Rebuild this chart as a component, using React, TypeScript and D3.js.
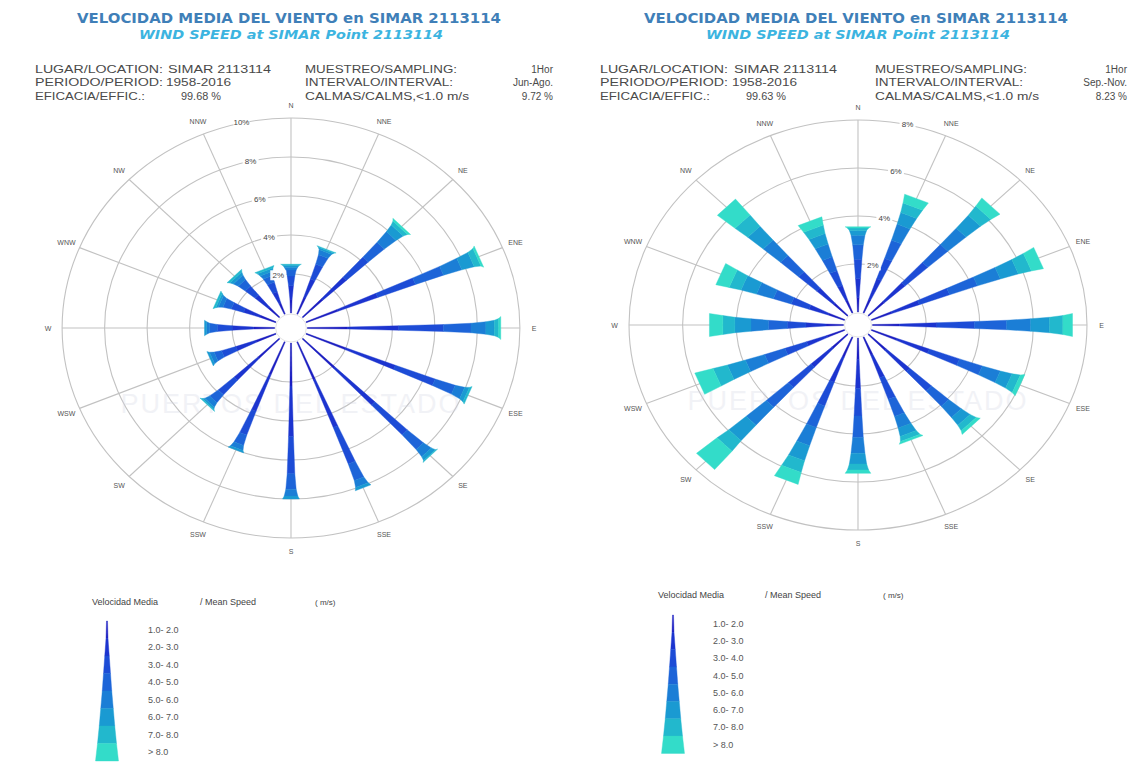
import * as d3 from "d3";

const directions = ["N", "NNE", "NE", "ENE", "E", "ESE", "SE", "SSE", "S", "SSW", "SW", "WSW", "W", "WNW", "NW", "NNW"];
const speedClasses = ["1.0- 2.0", "2.0- 3.0", "3.0- 4.0", "4.0- 5.0", "5.0- 6.0", "6.0- 7.0", "7.0- 8.0", "> 8.0"];
const classColors = ["#1b1ec2", "#1c34cf", "#1d4cd6", "#1d64d8", "#1b7ed6", "#1a9ad2", "#22b8cd", "#33dcc9"];
// full width (px) of a sector at the outer end of each speed class
const classWidths = [2, 4.5, 7, 9.5, 12.5, 15.5, 19, 23];

// frequency (%) per direction (rows, N clockwise) and speed class (cols)
const summerBins = [
  [0.7, 0.7, 0.5, 0.3, 0.15, 0.1, 0.05, 0],
  [0.9, 1.0, 0.8, 0.5, 0.25, 0.1, 0.05, 0],
  [1.3, 1.5, 1.4, 1.0, 0.7, 0.4, 0.2, 0.1],
  [1.6, 2.0, 1.9, 1.4, 0.9, 0.6, 0.3, 0.1],
  [1.9, 2.4, 2.1, 1.3, 0.7, 0.4, 0.2, 0.1],
  [2.0, 2.5, 2.0, 1.0, 0.45, 0.2, 0.1, 0],
  [2.1, 2.6, 2.1, 1.0, 0.45, 0.2, 0.05, 0],
  [2.1, 2.6, 2.0, 0.9, 0.35, 0.15, 0, 0],
  [2.2, 2.6, 1.9, 0.8, 0.35, 0.15, 0, 0],
  [1.8, 2.0, 1.3, 0.55, 0.25, 0.1, 0, 0],
  [1.4, 1.5, 1.0, 0.5, 0.25, 0.1, 0.05, 0],
  [1.0, 1.0, 0.7, 0.35, 0.2, 0.1, 0, 0],
  [1.0, 1.0, 0.7, 0.35, 0.15, 0.1, 0, 0],
  [0.8, 0.8, 0.6, 0.4, 0.2, 0.1, 0.1, 0],
  [0.7, 0.8, 0.6, 0.4, 0.25, 0.15, 0.1, 0],
  [0.6, 0.6, 0.5, 0.35, 0.2, 0.15, 0.1, 0],
];
const autumnBins = [
  [0.6, 0.8, 0.8, 0.6, 0.4, 0.2, 0.1, 0.05],
  [0.6, 0.9, 0.9, 0.8, 0.7, 0.5, 0.4, 0.36],
  [0.8, 1.05, 1.15, 1.0, 0.9, 0.7, 0.47, 0.4],
  [0.8, 1.1, 1.2, 1.1, 0.9, 0.7, 0.5, 0.45],
  [1.0, 1.4, 1.4, 1.2, 0.9, 0.7, 0.5, 0.36],
  [1.0, 1.3, 1.2, 0.9, 0.7, 0.45, 0.3, 0.15],
  [0.9, 1.2, 1.1, 0.85, 0.6, 0.4, 0.25, 0.13],
  [0.8, 1.0, 0.95, 0.75, 0.5, 0.35, 0.2, 0.09],
  [0.9, 1.2, 1.15, 0.9, 0.65, 0.45, 0.25, 0.14],
  [0.9, 1.1, 1.05, 0.95, 0.8, 0.65, 0.5, 0.5],
  [0.8, 1.05, 1.15, 1.1, 1.0, 0.85, 0.55, 1.0],
  [0.7, 0.8, 0.85, 0.8, 0.75, 0.7, 0.55, 0.7],
  [0.65, 0.75, 0.7, 0.7, 0.65, 0.6, 0.45, 0.5],
  [0.65, 0.75, 0.7, 0.7, 0.65, 0.6, 0.45, 0.5],
  [0.7, 0.85, 0.9, 0.9, 0.85, 0.75, 0.6, 0.85],
  [0.55, 0.65, 0.65, 0.6, 0.55, 0.45, 0.35, 0.34],
];
const summerTicks = [2, 4, 6, 8, 10];
const autumnTicks = [2, 4, 6, 8];

const titleEs = "VELOCIDAD MEDIA DEL VIENTO en SIMAR 2113114";
const titleEn = "WIND SPEED at SIMAR Point 2113114";
const infoLabels = ["LUGAR/LOCATION:", "PERIODO/PERIOD:", "EFICACIA/EFFIC.:"];
const infoLabels2 = ["MUESTREO/SAMPLING:", "INTERVALO/INTERVAL:", "CALMAS/CALMS,<1.0 m/s"];
const summerInfo = ["SIMAR 2113114", "1958-2016", "99.68 %"];
const summerInfo2 = ["1Hor", "Jun-Ago.", "9.72 %"];
const autumnInfo = ["SIMAR 2113114", "1958-2016", "99.63 %"];
const autumnInfo2 = ["1Hor", "Sep.-Nov.", "8.23 %"];

const FONT = "'Liberation Sans', Arial, sans-serif";
const GRID = "#c2c2c2";

const Rose = ({ cx, cy, hole, outer, maxPct, sx, ticks, tickAngle, bins }) => {
  const rScale = d3.scaleLinear().domain([0, maxPct]).range([hole, outer]);
  const aScale = d3.scaleLinear().domain([0, directions.length]).range([0, 2 * Math.PI]);
  // along = radial distance, perp = sideways offset; x is stretched by sx
  const project = (a, along, perp) => [
    cx + sx * (along * Math.sin(a) + perp * Math.cos(a)),
    cy - along * Math.cos(a) + perp * Math.sin(a),
  ];
  const poly = d3.line().curve(d3.curveLinearClosed);

  const sectors = bins.map((row, d) => {
    const a = aScale(d);
    const cum = Array.from(d3.cumsum(row));
    return row.map((v, i) => {
      if (v <= 0) return null;
      const r0 = rScale(i == 0 ? 0 : cum[i - 1]);
      const r1 = rScale(cum[i]);
      const h0 = (i == 0 ? 1 : classWidths[i - 1]) / 2;
      const h1 = classWidths[i] / 2;
      const pts = [project(a, r0, -h0), project(a, r1, -h1), project(a, r1, h1), project(a, r0, h0)];
      return <path key={`${d}-${i}`} d={poly(pts)} fill={classColors[i]} stroke={classColors[i]} strokeWidth={0.4} />;
    });
  });

  const labelR = outer + 13;
  const ta = (tickAngle * Math.PI) / 180;

  return (
    <g>
      {ticks.map((t) => (
        <ellipse key={t} cx={cx} cy={cy} rx={rScale(t) * sx} ry={rScale(t)} fill="none" stroke={GRID} strokeWidth={1.1} />
      ))}
      {directions.map((dName, d) => {
        const [x0, y0] = project(aScale(d), hole, 0);
        const [x1, y1] = project(aScale(d), outer, 0);
        return <line key={dName} x1={x0} y1={y0} x2={x1} y2={y1} stroke={GRID} strokeWidth={1.1} />;
      })}
      <text x={cx} y={cy + 85} textAnchor="middle" fontFamily={FONT} fontSize={27} fill="#d4d6e4" opacity={0.3} letterSpacing={2}>
        PUERTOS DEL ESTADO
      </text>
      {sectors}
      <ellipse cx={cx} cy={cy} rx={hole * sx - 1} ry={hole - 1} fill="#fff" stroke="#d0d0d0" strokeWidth={0.6} />
      {ticks.map((t) => {
        const [x, y] = project(ta, rScale(t), 0);
        return (
          <g key={"t" + t}>
            <rect x={x - 8} y={y - 5} width={16} height={10} fill="#fff" opacity={0.95} />
            <text x={x} y={y} textAnchor="middle" dominantBaseline="central" fontFamily={FONT} fontSize={8} fill="#444">
              {t}%
            </text>
          </g>
        );
      })}
      {directions.map((dName, d) => {
        const [x, y] = project(aScale(d), labelR, 0);
        return (
          <text key={"l" + dName} x={x} y={y} textAnchor="middle" dominantBaseline="central" fontFamily={FONT} fontSize={7} fill="#555">
            {dName}
          </text>
        );
      })}
    </g>
  );
};

const Legend = ({ x, top, bandH, labelX, titleY, titleXs }) => {
  const yScale = d3.scaleLinear().domain([0, speedClasses.length]).range([top, top + bandH * speedClasses.length]);
  const poly = d3.line().curve(d3.curveLinearClosed);
  return (
    <g fontFamily={FONT} fill="#444">
      <text x={titleXs[0]} y={titleY} fontSize={9}>Velocidad Media</text>
      <text x={titleXs[1]} y={titleY} fontSize={9}>/ Mean Speed</text>
      <text x={titleXs[2]} y={titleY} fontSize={8}>( m/s)</text>
      {speedClasses.map((s, i) => {
        const y0 = yScale(i);
        const y1 = yScale(i + 1);
        const w0 = (i == 0 ? 1 : classWidths[i - 1]) / 2;
        const w1 = classWidths[i] / 2;
        const pts = [[x - w0, y0], [x + w0, y0], [x + w1, y1], [x - w1, y1]];
        return <path key={s} d={poly(pts)} fill={classColors[i]} stroke={classColors[i]} strokeWidth={0.4} />;
      })}
      {speedClasses.map((s, i) => (
        <text key={"l" + s} x={labelX} y={(yScale(i) + yScale(i + 1)) / 2} dominantBaseline="central" fontSize={9} fill="#555">
          {s}
        </text>
      ))}
    </g>
  );
};

const Header = ({ cx, x0, xv, x2, xr, info, info2 }) => {
  const rows = [72.5, 86, 99.5];
  const lw = [128, 128, 110];
  const lw2 = [152, 148, 164];
  const vw = [103, 65, 40];
  return (
    <g fontFamily={FONT} fontSize={10} fill="#4a4a4a">
      <text x={cx} y={23} textAnchor="middle" fontFamily="'DejaVu Sans', Verdana, sans-serif" fontWeight="bold" fontSize={13.5}
        fill="#3f7fb8" textLength={424} lengthAdjust="spacingAndGlyphs">
        {titleEs}
      </text>
      <text x={cx + 2} y={38.5} textAnchor="middle" fontFamily="'DejaVu Sans', Verdana, sans-serif" fontWeight="bold" fontStyle="italic"
        fontSize={13} fill="#3cb4e0" textLength={304} lengthAdjust="spacingAndGlyphs">
        {titleEn}
      </text>
      {infoLabels.map((l, i) => (
        <text key={l} x={x0} y={rows[i]} textLength={lw[i]} lengthAdjust="spacingAndGlyphs">{l}</text>
      ))}
      {info.map((v, i) => (
        <text key={"v" + i} x={xv[i]} y={rows[i]} textLength={vw[i]} lengthAdjust="spacingAndGlyphs">{v}</text>
      ))}
      {infoLabels2.map((l, i) => (
        <text key={l} x={x2} y={rows[i]} textLength={lw2[i]} lengthAdjust="spacingAndGlyphs">{l}</text>
      ))}
      {info2.map((v, i) => (
        <text key={"w" + i} x={xr} y={rows[i]} textAnchor="end">{v}</text>
      ))}
    </g>
  );
};

export default function App() {
  return (
    <div style={{ position: "absolute", left: 0, top: 0 }}>
      <svg width={1139} height={762} style={{ display: "block", background: "#fff" }}>
        <Header cx={289} x0={35} xv={[168, 166, 181]} x2={305} xr={553} info={summerInfo} info2={summerInfo2} />
        <Header cx={856} x0={600} xv={[734, 732, 746]} x2={875} xr={1127} info={autumnInfo} info2={autumnInfo2} />
        <Rose cx={291} cy={328} hole={15} outer={210} maxPct={10} sx={1.09} ticks={summerTicks} tickAngle={-12.5} bins={summerBins} />
        <Rose cx={858} cy={325} hole={13} outer={205} maxPct={8} sx={1.117} ticks={autumnTicks} tickAngle={12.5} bins={autumnBins} />
        <Legend x={107} top={621} bandH={17.5} labelX={148} titleY={605} titleXs={[92, 200, 315]} />
        <Legend x={673} top={615} bandH={17.3} labelX={713} titleY={598} titleXs={[658, 765, 883]} />
      </svg>
    </div>
  );
}
